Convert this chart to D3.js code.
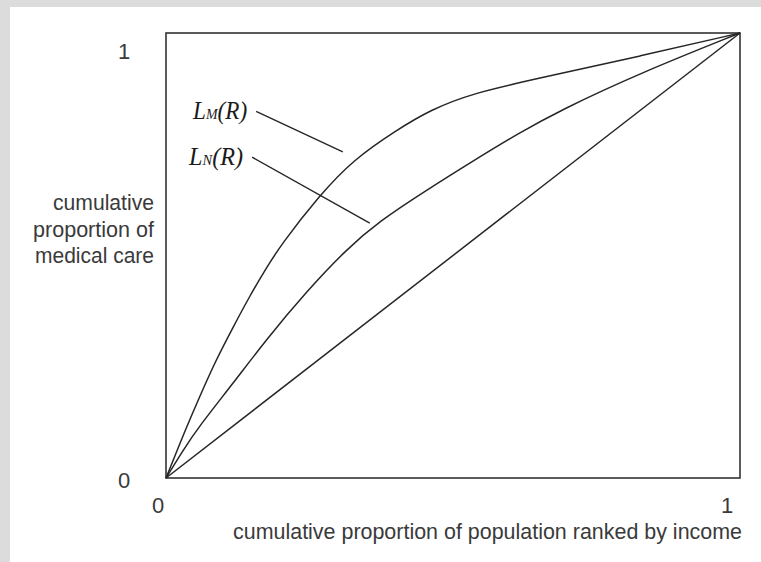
<!DOCTYPE html>
<html>
<head>
<meta charset="utf-8">
<script src="https://cdn.jsdelivr.net/npm/d3@7"></script>
<style>
  html, body { margin: 0; padding: 0; background: #dcdcdc; }
  svg { display: block; }
  .lbl { font-family: "Liberation Sans", Arial, Helvetica, sans-serif; fill: #3a3a3a; }
  .curve-name { font-family: "Liberation Serif", "Times New Roman", serif; font-style: italic; fill: #1a1a1a; }
</style>
</head>
<body>
<script>
// Concentration curves: cumulative share of medical care vs population ranked by income
const xTickValues = [0, 1];
const yTickValues = [0, 1];
const xTickLabels = ["0", "1"];
const yTickLabels = ["0", "1"];

// L_M(R)
const popShareM  = [0, 0.035, 0.057, 0.087, 0.117, 0.145, 0.174, 0.199, 0.268, 0.326, 0.402, 0.460, 0.535, 0.652, 0.826, 1];
const careShareM = [0, 0.112, 0.178, 0.265, 0.339, 0.407, 0.470, 0.522, 0.636, 0.715, 0.782, 0.827, 0.865, 0.899, 0.948, 1];

// L_N(R)
const popShareN  = [0, 0.030, 0.057, 0.117, 0.174, 0.244, 0.315, 0.373, 0.448, 0.547, 0.611, 0.686, 0.826, 1];
const careShareN = [0, 0.063, 0.115, 0.213, 0.310, 0.418, 0.515, 0.578, 0.642, 0.722, 0.772, 0.826, 0.910, 1];

// line of equality
const equality = [0, 1];

const yAxisTitle = ["cumulative", "proportion of", "medical care"];
const xAxisTitle = "cumulative proportion of population ranked by income";

// Curve name labels with leader lines (start near the label, end near the curve)
const curveNames = ["M", "N"];
const leaderFrom = [[0.157, 0.824], [0.150, 0.721]];
const leaderTo = [[0.308, 0.733], [0.355, 0.573]];

const W = 761, H = 562;
const svg = d3.select("body").append("svg").attr("width", W).attr("height", H);

// white sheet
svg.append("rect").attr("x", 10).attr("y", 7).attr("width", W - 10).attr("height", H - 7).attr("fill", "#ffffff");

const x = d3.scaleLinear().domain([0, 1]).range([166, 740]);
const y = d3.scaleLinear().domain([0, 1]).range([478, 33]);

const ink = "#262626";

// frame
svg.append("rect")
  .attr("x", x(0)).attr("y", y(1))
  .attr("width", x(1) - x(0)).attr("height", y(0) - y(1))
  .attr("fill", "none").attr("stroke", "#333").attr("stroke-width", 1.6);

const line = d3.line().x(d => x(d[0])).y(d => y(d[1])).curve(d3.curveBasis);

const series = [
  d3.zip(popShareM, careShareM),
  d3.zip(popShareN, careShareN),
  d3.zip(equality, equality)
];

svg.selectAll("path.curve").data(series).join("path")
  .attr("class", "curve")
  .attr("d", line)
  .attr("fill", "none").attr("stroke", ink).attr("stroke-width", 1.5);

// leader lines
svg.selectAll("line.leader").data(d3.range(curveNames.length)).join("line")
  .attr("class", "leader")
  .attr("x1", i => x(leaderFrom[i][0])).attr("y1", i => y(leaderFrom[i][1]))
  .attr("x2", i => x(leaderTo[i][0])).attr("y2", i => y(leaderTo[i][1]))
  .attr("stroke", ink).attr("stroke-width", 1.4);

// curve names: L_M(R), L_N(R)
curveNames.forEach((nm, i) => {
  const t = svg.append("text").attr("class", "curve-name")
    .attr("x", x(leaderFrom[i][0]) - 63).attr("y", y(leaderFrom[i][1]) + 8)
    .attr("font-size", 25)
    .attr("textLength", 54).attr("lengthAdjust", "spacingAndGlyphs");
  t.append("tspan").text("L");
  t.append("tspan").attr("font-size", 15).text(nm);
  t.append("tspan").text("(R)");
});

// tick labels
svg.selectAll("text.xtick").data(xTickValues).join("text")
  .attr("class", "lbl xtick")
  .attr("x", (d, i) => x(d) + (i === 0 ? -8 : -13))
  .attr("y", 513)
  .attr("text-anchor", "middle").attr("font-size", 22)
  .text((d, i) => xTickLabels[i]);

svg.selectAll("text.ytick").data(yTickValues).join("text")
  .attr("class", "lbl ytick")
  .attr("x", 124)
  .attr("y", (d, i) => y(d) + (i === 0 ? 10 : 26))
  .attr("text-anchor", "middle").attr("font-size", 22)
  .text((d, i) => yTickLabels[i]);

// axis titles
const yTitleWidths = [101, 121, 119];
svg.selectAll("text.ytitle").data(yAxisTitle).join("text")
  .attr("class", "lbl ytitle")
  .attr("x", (d, i) => 154 - yTitleWidths[i]).attr("y", (d, i) => 210 + i * 26.5)
  .attr("font-size", 22)
  .attr("textLength", (d, i) => yTitleWidths[i]).attr("lengthAdjust", "spacingAndGlyphs")
  .text(d => d);

svg.append("text").attr("class", "lbl")
  .attr("x", 233).attr("y", 539)
  .attr("font-size", 22)
  .attr("textLength", 509).attr("lengthAdjust", "spacingAndGlyphs")
  .text(xAxisTitle);
</script>
</body>
</html>
